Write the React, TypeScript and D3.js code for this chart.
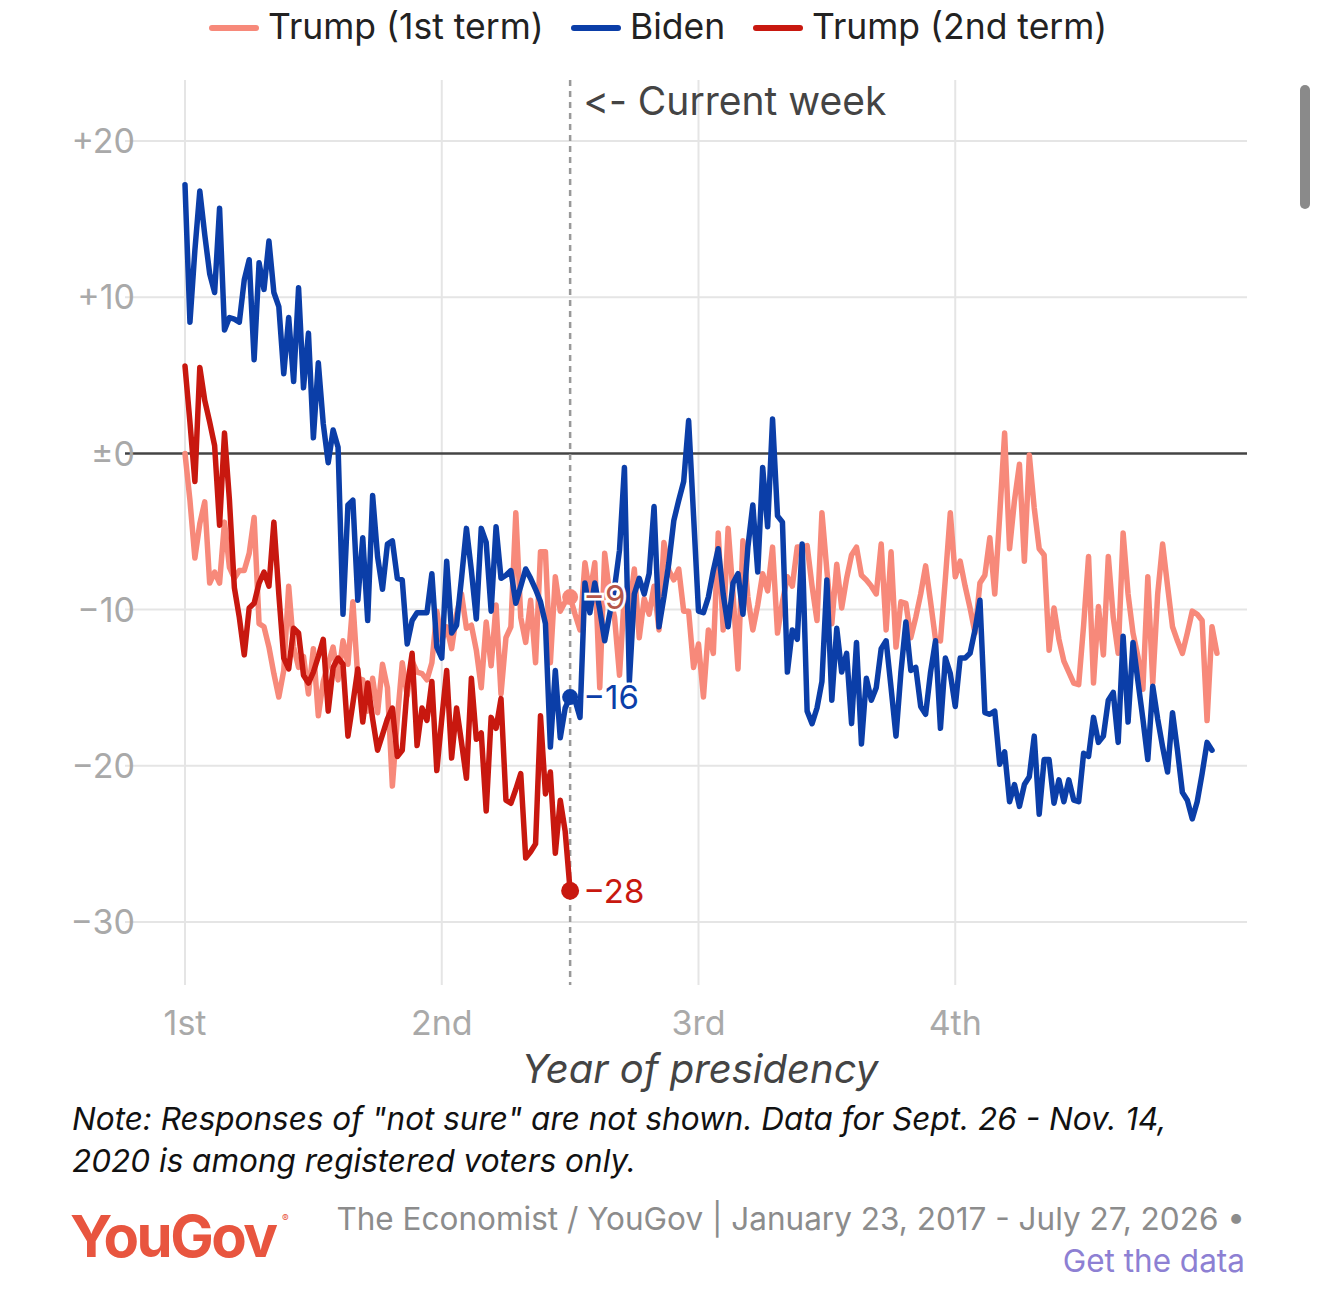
import React, { useEffect, useRef } from "react";
import * as d3 from "d3";

// weekly net approval, week 0 = first week of the term
const trump1: number[] = [
  0, -3, -6.7, -4.5, -3.1, -8.3, -7.6, -8.3, -4.4, -7.3,
  -8, -7.5, -7.5, -6.4, -4.1, -10.9, -11.1, -12.4, -14.1, -15.6,
  -13.9, -8.5, -12.4, -13.7, -13, -15.4, -12.5, -16.8, -14.6, -13.5,
  -12.4, -14.5, -12, -13.5, -9.5, -14.4, -14.5, -16.5, -14.4, -16.6,
  -13.5, -15, -21.3, -17, -13.4, -15.5, -13.3, -14, -14.1, -14.5,
  -13.4, -10.1, -12, -11.1, -12.5, -10.3, -9, -11.2, -11, -12.6,
  -15, -10.8, -13.6, -9.7, -15.4, -11.8, -11.1, -3.8, -10.5, -12.1,
  -9.4, -13.4, -6.3, -6.3, -13.4, -7.9, -10.1, -9.5, -9.2, -10.3,
  -11.3, -7, -9, -7, -15, -6.4, -9, -10.5, -14.2, -9,
  -10, -7.4, -11.8, -9.3, -10.3, -8.5, -11.3, -5.7, -7.5, -8.1,
  -7.4, -10.1, -10.1, -13.7, -12.2, -15.6, -11.3, -12.8, -5.1, -11.3,
  -4.8, -9, -13.8, -5.6, -9.2, -11.3, -9.7, -7.7, -8.8, -6,
  -11.5, -9.5, -7.9, -8.5, -6, -6, -5.9, -8.5, -10.7, -3.8,
  -7.5, -10.9, -7.1, -9.9, -8, -6.5, -6, -7.8, -8.1, -8.5,
  -9, -5.8, -11.3, -6.3, -12.4, -9.5, -9.6, -11.8, -10.5, -9,
  -7.2, -9.5, -11.9, -12, -8, -3.8, -7.9, -6.9, -8.5, -9.9,
  -11.5, -8.3, -7.8, -5.4, -9, -4, 1.3, -6.1, -3, -0.7,
  -6.9, -0.1, -3.5, -6.1, -6.5, -12.6, -9.9, -11.9, -13.3, -14,
  -14.7, -14.8, -11, -6.6, -14.7, -9.8, -12.9, -6.6, -10.5, -12.8,
  -5.1, -9, -11.5, -13, -15.1, -7.9, -14.7, -9, -5.8, -8.5,
  -11.1, -12, -12.8, -11.5, -10.1, -10.3, -10.7, -17.1, -11.1, -12.8,
];

const biden: number[] = [
  17.2, 8.4, 13, 16.8, 14, 11.5, 10.3, 15.7, 7.9, 8.7,
  8.6, 8.4, 11.1, 12.4, 6, 12.2, 10.5, 13.6, 10.3, 9.4,
  5.1, 8.7, 4.6, 10.6, 4.2, 7.7, 1, 5.8, 1.9, -0.6,
  1.5, 0.4, -10.3, -3.3, -3, -9.4, -5.4, -10.7, -2.7, -6.6,
  -8.7, -5.8, -5.6, -8, -8.1, -12.2, -10.7, -10.2, -10.2, -10.2,
  -7.7, -12.4, -13.1, -6.9, -11.5, -11, -8, -4.8, -7.5, -10.6,
  -4.8, -5.7, -10.1, -4.7, -8, -7.8, -7.5, -9.6, -8.5, -7.4,
  -8, -8.7, -9.5, -10.9, -18.8, -13.9, -18.2, -16.3, -15.6, -15.8,
  -16.9, -8.3, -10.2, -8.3, -10, -12, -10.3, -8.6, -6.2, -0.9,
  -14.6, -9, -8, -9, -7.7, -3.4, -11.1, -9.2, -7, -4.3,
  -3, -1.8, 2.1, -4, -10.1, -10.2, -9.2, -7.5, -6.1, -9,
  -11.1, -8.3, -7.7, -10.3, -6, -3.3, -7.6, -0.9, -4.7, 2.2,
  -4, -4.4, -14, -11.3, -11.9, -5.8, -16.5, -17.3, -16.3, -14.6,
  -8.1, -15.8, -11.2, -14, -12.8, -17.3, -12.1, -18.6, -14.4, -15.8,
  -15, -12.5, -12, -15, -18.1, -14, -10.8, -13.9, -13.7, -16.2,
  -16.7, -14, -12, -17.6, -13.1, -14.1, -16.2, -13.1, -13.1, -12.8,
  -11.3, -9.4, -16.6, -16.7, -16.5, -19.9, -19.1, -22.3, -21.2, -22.6,
  -21.2, -20.7, -18.1, -23.1, -19.6, -19.6, -22.4, -20.9, -22.3, -20.9,
  -22.2, -22.3, -19.2, -19.4, -16.9, -18.5, -18.1, -15.8, -15.3, -18.5,
  -11.7, -17.2, -12.1, -14.6, -17, -19.6, -14.9, -17, -18.8, -20.4,
  -16.6, -19, -21.7, -22.2, -23.4, -22.3, -20.5, -18.5, -19,
];

const trump2: number[] = [
  5.6, 2, -1.8, 5.5, 3.4, 2, 0.5, -4.6, 1.3, -3,
  -8.6, -10.5, -12.9, -9.9, -9.6, -8.3, -7.6, -8.5, -4.4, -9,
  -13.1, -13.8, -11.2, -11.5, -14.2, -14.7, -14, -13, -11.9, -16.5,
  -13.7, -13.1, -13.5, -18.1, -16, -13.8, -17.2, -14.7, -17, -19,
  -18, -17, -16.3, -19.4, -19, -15, -12.8, -18.7, -16.3, -17.1,
  -14.6, -20.3, -17, -13.9, -19.5, -16.3, -18.5, -20.8, -14.4, -18.3,
  -17.9, -22.9, -16.9, -17.6, -15.7, -22.2, -22.4, -21.5, -20.5, -25.9,
  -25.5, -25, -16.8, -21.8, -20.4, -25.6, -22.2, -24.2, -28,
];

const seriesNames = ["Trump (1st term)", "Biden", "Trump (2nd term)"];
const seriesColors = ["#f7897a", "#0b3ea8", "#c8180f"];
const yTicks = [20, 10, 0, -10, -20, -30];
const yearLabels = ["1st", "2nd", "3rd", "4th"];
const currentWeek = trump2.length - 1;

const WIDTH = 1320;
const HEIGHT = 1289;
const FONT = "Inter, 'Noto Sans', sans-serif";
const NO_LIGA = "'calt' 0, 'liga' 0";

const fmtTick = (v: number) => (v > 0 ? `+${v}` : v === 0 ? "±0" : `−${Math.abs(v)}`);
const fmtEnd = (v: number) => {
  const r = Math.round(v);
  return r < 0 ? `−${Math.abs(r)}` : `${r}`;
};

const App: React.FC = () => {
  const svgRef = useRef<SVGSVGElement>(null);

  useEffect(() => {
    if (!svgRef.current) return;
    const svg = d3.select(svgRef.current);
    svg.selectAll("*").remove();

    const x = d3.scaleLinear().domain([0, 4]).range([185, 1212]);
    const y = d3.scaleLinear().domain([-30, 20]).range([922, 141]);
    const gridLeft = 125;
    const gridRight = 1247;
    const gridTop = 80;
    const gridBottom = 985;

    // horizontal grid
    svg.append("g")
      .selectAll("line")
      .data(yTicks.filter(d => d !== 0))
      .join("line")
      .attr("x1", gridLeft)
      .attr("x2", gridRight)
      .attr("y1", d => y(d))
      .attr("y2", d => y(d))
      .attr("stroke", "#e5e5e5")
      .attr("stroke-width", 2);

    // vertical grid (years)
    svg.append("g")
      .selectAll("line")
      .data(yearLabels)
      .join("line")
      .attr("x1", (_, i) => x(i))
      .attr("x2", (_, i) => x(i))
      .attr("y1", gridTop)
      .attr("y2", gridBottom)
      .attr("stroke", "#e5e5e5")
      .attr("stroke-width", 2);

    // zero line
    svg.append("line")
      .attr("x1", gridLeft)
      .attr("x2", gridRight)
      .attr("y1", y(0))
      .attr("y2", y(0))
      .attr("stroke", "#444")
      .attr("stroke-width", 2.5);

    // y labels
    svg.append("g")
      .selectAll("text")
      .data(yTicks)
      .join("text")
      .attr("x", 135)
      .attr("y", d => y(d))
      .attr("dy", "0.36em")
      .attr("text-anchor", "end")
      .attr("fill", "#a9a9a9")
      .style("font-family", FONT)
      .style("font-size", "34px")
      .text(fmtTick);

    // x labels
    svg.append("g")
      .selectAll("text")
      .data(yearLabels)
      .join("text")
      .attr("x", (_, i) => x(i))
      .attr("y", 1035)
      .attr("text-anchor", "middle")
      .attr("fill", "#a9a9a9")
      .style("font-family", FONT)
      .style("font-size", "34px")
      .text(d => d);

    svg.append("text")
      .attr("x", 700)
      .attr("y", 1083)
      .attr("text-anchor", "middle")
      .attr("fill", "#444")
      .style("font-family", FONT)
      .style("font-style", "italic")
      .style("font-size", "40px")
      .text("Year of presidency");

    // current week marker
    svg.append("line")
      .attr("x1", x(currentWeek / 52))
      .attr("x2", x(currentWeek / 52))
      .attr("y1", gridTop)
      .attr("y2", gridBottom)
      .attr("stroke", "#999")
      .attr("stroke-width", 2.5)
      .attr("stroke-dasharray", "6,5");

    svg.append("text")
      .attr("x", x(currentWeek / 52) + 13)
      .attr("y", 115)
      .attr("fill", "#444")
      .style("font-family", FONT)
      .style("font-feature-settings", NO_LIGA)
      .style("font-size", "39px")
      .text("<- Current week");

    const line = d3.line<number>()
      .x((_, i) => x(i / 52))
      .y(d => y(d));

    const allSeries = [trump1, biden, trump2];
    allSeries.forEach((s, k) => {
      svg.append("path")
        .datum(s)
        .attr("d", line)
        .attr("fill", "none")
        .attr("stroke", seriesColors[k])
        .attr("stroke-width", 5.5)
        .attr("stroke-linejoin", "round")
        .attr("stroke-linecap", "round");
    });

    // current-week dots and labels
    const endColors = ["#b5564a", "#0b3ea8", "#c8180f"];
    allSeries.forEach((s, k) => {
      const v = s[currentWeek];
      svg.append("circle")
        .attr("cx", x(currentWeek / 52))
        .attr("cy", y(v))
        .attr("r", k === 2 ? 9 : 8)
        .attr("fill", seriesColors[k]);
    });
    allSeries.forEach((s, k) => {
      const v = s[currentWeek];
      svg.append("text")
        .attr("x", x(currentWeek / 52) + 13)
        .attr("y", y(v))
        .attr("dy", "0.36em")
        .attr("fill", endColors[k])
        .attr("stroke", "#fff")
        .attr("stroke-width", 5)
        .attr("paint-order", "stroke")
        .style("font-family", FONT)
        .style("font-size", "33px")
        .text(fmtEnd(v));
    });

    // legend
    const legendX = [212, 574, 756];
    const legend = svg.append("g");
    seriesNames.forEach((name, k) => {
      legend.append("line")
        .attr("x1", legendX[k])
        .attr("x2", legendX[k] + 44)
        .attr("y1", 28)
        .attr("y2", 28)
        .attr("stroke", seriesColors[k])
        .attr("stroke-width", 6)
        .attr("stroke-linecap", "round");
      legend.append("text")
        .attr("x", legendX[k] + 56)
        .attr("y", 39)
        .attr("fill", "#222")
        .style("font-family", FONT)
        .style("font-size", "35.5px")
        .text(name);
    });

    // note
    const note = [
      "Note: Responses of \"not sure\" are not shown. Data for Sept. 26 - Nov. 14,",
      "2020 is among registered voters only.",
    ];
    svg.append("g")
      .selectAll("text")
      .data(note)
      .join("text")
      .attr("x", 72)
      .attr("y", (_, i) => 1130 + i * 42)
      .attr("fill", "#111")
      .style("font-family", FONT)
      .style("font-style", "italic")
      .style("font-size", "31.5px")
      .text(d => d);

    // footer
    svg.append("text")
      .attr("x", 70)
      .attr("y", 1257)
      .attr("fill", "#e8553f")
      .style("font-family", FONT)
      .style("font-weight", "700")
      .style("font-size", "58px")
      .style("letter-spacing", "-2.5px")
      .text("YouGov");
    svg.append("text")
      .attr("x", 282)
      .attr("y", 1222)
      .attr("fill", "#e8553f")
      .style("font-family", FONT)
      .style("font-size", "10px")
      .text("®");

    svg.append("text")
      .attr("x", 1245)
      .attr("y", 1230)
      .attr("text-anchor", "end")
      .attr("fill", "#8c8c8c")
      .style("font-family", FONT)
      .style("font-size", "31.5px")
      .text("The Economist / YouGov | January 23, 2017 - July 27, 2026 •");
    svg.append("text")
      .attr("x", 1245)
      .attr("y", 1272)
      .attr("text-anchor", "end")
      .attr("fill", "#8d80d3")
      .style("font-family", FONT)
      .style("font-size", "31.5px")
      .text("Get the data");

    // scrollbar of the screenshot
    svg.append("rect")
      .attr("x", 1300)
      .attr("y", 85)
      .attr("width", 10)
      .attr("height", 124)
      .attr("rx", 5)
      .attr("fill", "#8a8a8a");
  }, []);

  return (
    <svg
      ref={svgRef}
      width={WIDTH}
      height={HEIGHT}
      viewBox={`0 0 ${WIDTH} ${HEIGHT}`}
      style={{ position: "absolute", left: 0, top: 0, background: "#fff" }}
    />
  );
};

export default App;
